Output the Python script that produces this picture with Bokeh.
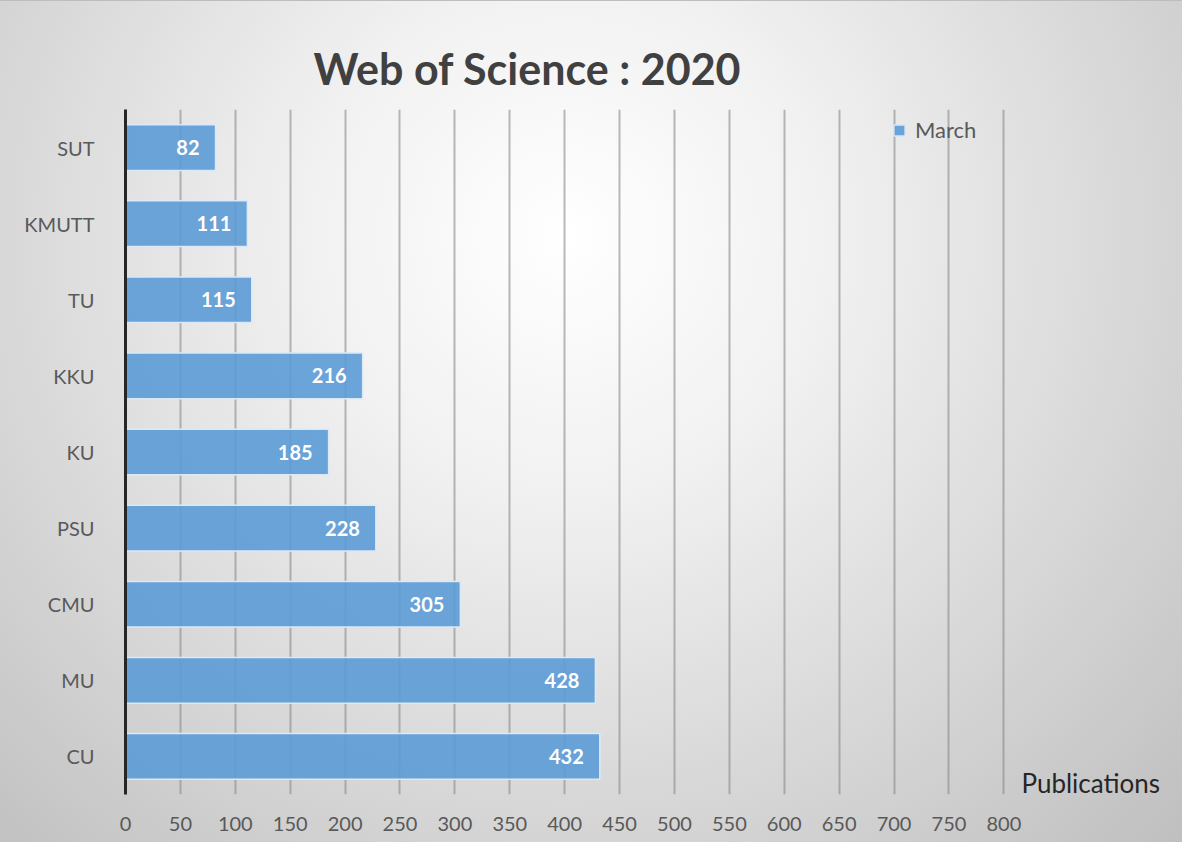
from bokeh.plotting import figure
from bokeh.models import ColumnDataSource, FactorRange, Range1d, FixedTicker, LabelSet, Label, Legend, LegendItem
from bokeh.core.properties import value
from bokeh.embed import file_html
from bokeh.resources import INLINE

universities = ["SUT", "KMUTT", "TU", "KKU", "KU", "PSU", "CMU", "MU", "CU"]
publications = [82, 111, 115, 216, 185, 228, 305, 428, 432]
x_ticks = [0, 50, 100, 150, 200, 250, 300, 350, 400, 450, 500, 550, 600, 650, 700, 750, 800]
series_name = "March"
title_text = "Web of Science : 2020"
axis_title = "Publications"

FONT = "Lato"

src = ColumnDataSource(dict(
    cat=universities,
    val=publications,
    lab=[str(v) for v in publications],
))

factors = list(reversed(universities))
p = figure(
    width=1182, height=842,
    y_range=FactorRange(factors=factors, range_padding=0),
    x_range=Range1d(0, 953.6),
    output_backend="svg", toolbar_location=None,
    min_border_left=125, min_border_right=10, min_border_top=108, min_border_bottom=49,
)
p.styles = {"background": "radial-gradient(farthest-corner at 48% 28%, #ffffff 0%, #f1f1f1 30%, #bfbfbf 100%)",
            "border-top": "1px solid #bdbdbd"}
p.background_fill_alpha = 0
p.border_fill_alpha = 0
p.outline_line_color = None

# title
p.title.text = title_text
p.title.align = "left"
p.title.offset = 188
p.title.standoff = 31
p.title.text_font = FONT
p.title.text_font_style = "bold"
p.title.text_font_size = "43px"
p.title.text_color = "#404040"

r = p.hbar(y="cat", right="val", left=0, height=0.6, source=src,
           fill_color="#5b9bd5", fill_alpha=0.9, line_color="#dbe9f6", line_width=1.5)

# axes
p.xaxis.ticker = FixedTicker(ticks=x_ticks)
p.xaxis.axis_line_color = None
p.xaxis.major_tick_line_color = None
p.xaxis.minor_tick_line_color = None
p.xaxis.major_label_standoff = 16
p.xaxis.major_label_text_font = FONT
p.xaxis.major_label_text_font_size = "20px"
p.xaxis.major_label_text_color = "#595959"

p.yaxis.axis_line_color = "#262626"
p.yaxis.axis_line_width = 3
p.yaxis.major_tick_line_color = None
p.yaxis.minor_tick_line_color = None
p.yaxis.major_label_standoff = 25
p.yaxis.major_label_text_font = FONT
p.yaxis.major_label_text_font_size = "20px"
p.yaxis.major_label_text_color = "#595959"

p.ygrid.grid_line_color = None
p.xgrid.ticker = FixedTicker(ticks=x_ticks)
p.xgrid.grid_line_color = "#8a8a8a"
p.xgrid.grid_line_alpha = 0.6
p.xgrid.grid_line_width = 2

labels = LabelSet(x="val", y="cat", text="lab", source=src, x_offset=-16,
                  text_align="right", text_baseline="middle",
                  text_font=value(FONT), text_font_style="bold",
                  text_font_size="20px", text_color="white")
p.add_layout(labels)

p.add_layout(Label(x=816, y=0, y_offset=-4, text=axis_title, text_align="left", text_baseline="bottom",
                   text_font=FONT, text_font_size="26px", text_color="#262626"))

legend = Legend(items=[LegendItem(label=series_name, renderers=[r])], location=(767, 651),
                background_fill_alpha=0, border_line_color=None, padding=0, margin=0,
                glyph_width=14, glyph_height=14, label_standoff=9,
                label_text_font=FONT, label_text_font_size="22px", label_text_color="#595959")
p.add_layout(legend)

open("out.html", "w").write(file_html(p, INLINE))
